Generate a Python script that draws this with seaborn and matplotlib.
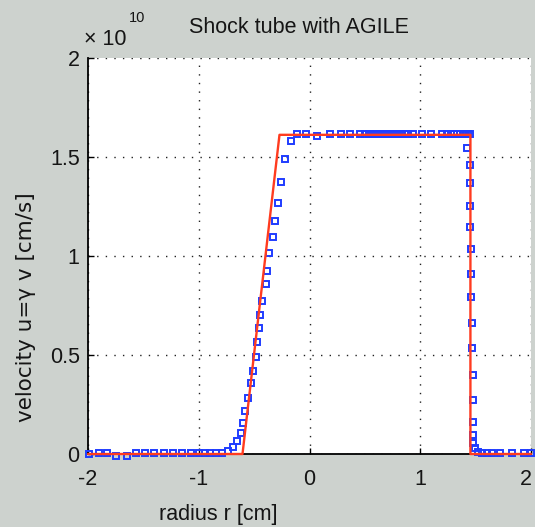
import numpy as np
import pandas as pd
import matplotlib
matplotlib.use("Agg")
import matplotlib.pyplot as plt
import matplotlib.transforms as mtransforms
import seaborn as sns

# ---------------- data (velocity in units of 1e10 cm/s) ----------------
exact_r = [-2.0, -0.605, -0.271, 1.453, 1.453, 2.0]
exact_u = [0.0, 0.0, 1.612, 1.612, 0.0, 0.0]

sim_r = [-1.99, -1.90, -1.826, -1.745, -1.652, -1.57, -1.489, -1.405, -1.315,
         -1.23, -1.149, -1.074, -0.995, -0.945, -0.894, -0.842, -0.788,
         -0.736, -0.692, -0.659, -0.623, -0.598, -0.580, -0.557, -0.526,
         -0.508, -0.487, -0.472, -0.458, -0.445, -0.427, -0.397, -0.382,
         -0.367, -0.331, -0.316, -0.282, -0.253, -0.223, -0.171, -0.111,
         -0.036, 0.069, 0.183, 0.280, 0.370, 0.454,
         0.505, 0.540, 0.576, 0.611, 0.646, 0.682, 0.717, 0.752, 0.788,
         0.823, 0.858, 0.893, 0.936, 1.017, 1.101, 1.198,
         1.243, 1.275, 1.305, 1.335, 1.36, 1.385, 1.40, 1.415, 1.43, 1.445,
         1.425, 1.450, 1.451, 1.452, 1.453, 1.454, 1.455, 1.456, 1.470,
         1.471, 1.472, 1.473, 1.474, 1.475, 1.476, 1.498, 1.523,
         1.559, 1.604, 1.649, 1.724, 1.830, 1.934, 2.0]
sim_u = [0.0, 0.003, 0.003, -0.008, -0.008, 0.003, 0.003, 0.003, 0.003,
         0.003, 0.003, 0.003, 0.003, 0.003, 0.003, 0.003, 0.003,
         0.015, 0.035, 0.066, 0.108, 0.158, 0.219, 0.281, 0.357,
         0.421, 0.488, 0.567, 0.635, 0.702, 0.773, 0.857, 0.926,
         1.014, 1.094, 1.178, 1.270, 1.374, 1.488, 1.582, 1.616,
         1.618, 1.606, 1.618, 1.618, 1.618, 1.618,
         1.618, 1.618, 1.618, 1.618, 1.618, 1.618, 1.618, 1.618, 1.618,
         1.618, 1.618, 1.618, 1.618, 1.618, 1.618, 1.618,
         1.618, 1.618, 1.618, 1.618, 1.618, 1.618, 1.618, 1.618, 1.618, 1.618,
         1.544, 1.460, 1.367, 1.253, 1.145, 1.034, 0.908, 0.794, 0.660,
         0.534, 0.399, 0.273, 0.163, 0.096, 0.054, 0.029, 0.012,
         0.003, 0.003, 0.003, 0.003, 0.003, 0.003, 0.003]

x_ticks = [-2, -1, 0, 1, 2]
x_tick_labels = ["-2", "-1", "0", "1", "2"]
y_ticks = [0, 0.5, 1, 1.5, 2]
y_tick_labels = ["0", "0.5", "1", "1.5", "2"]

title_text = "Shock tube with AGILE"
xlabel_text = "radius r [cm]"
ylabel_text = "velocity u=\u03b3 v [cm/s]"

# ---------------- style ----------------
sns.set_theme(style="white")
plt.rcParams["font.family"] = ["Liberation Sans", "DejaVu Sans"]
plt.rcParams["axes.unicode_minus"] = False

BG = "#cdd2ce"
RED = "#ff3b1f"
BLUE = "#1f3cff"
TXT = "#151515"
FS = 15.5

W, H = 535, 527
fig = plt.figure(figsize=(W / 100, H / 100), dpi=100, facecolor=BG)
ax = fig.add_axes([88 / W, 1 - 454 / H, 443 / W, 396 / H])
ax.set_facecolor("white")

sim_df = pd.DataFrame({"r": sim_r, "u": sim_u})
exact_df = pd.DataFrame({"r": exact_r, "u": exact_u})

sns.lineplot(data=sim_df, x="r", y="u", ax=ax, estimator=None, sort=False,
             linestyle="", marker="s", markersize=4.4, markerfacecolor="none",
             markeredgecolor=BLUE, markeredgewidth=1.4, color=BLUE,
             clip_on=False, zorder=3)
sns.lineplot(data=exact_df, x="r", y="u", ax=ax, estimator=None, sort=False,
             color=RED, linewidth=1.7, zorder=4, clip_on=False)

ax.set_xlim(-2, 2)
ax.set_ylim(0, 2)
ax.set_xticks(x_ticks)
ax.set_xticklabels(x_tick_labels)
ax.set_yticks(y_ticks)
ax.set_yticklabels(y_tick_labels)
ax.set_xlabel("")
ax.set_ylabel("")

ax.grid(True, color="#222222", linestyle=(0, (1, 5.2)), linewidth=1.0)
ax.set_axisbelow(True)
for s in ["top", "right"]:
    ax.spines[s].set_visible(False)
for s in ["left", "bottom"]:
    ax.spines[s].set_color("black")
    ax.spines[s].set_linewidth(1.3)

ax.tick_params(axis="both", direction="in", length=4, width=1.0, colors="black",
               labelsize=FS, bottom=True, left=True, top=False, right=False)
ax.tick_params(axis="x", pad=11)
ax.tick_params(axis="y", pad=6)
for lab in ax.get_xticklabels() + ax.get_yticklabels():
    lab.set_color(TXT)

# keep the last x tick label inside the figure, as in the reference
last = ax.get_xticklabels()[-1]
last.set_transform(last.get_transform() +
                   mtransforms.ScaledTranslation(-5 / 100, 0, fig.dpi_scale_trans))

fig.text(299 / W, 1 - 33 / H, title_text, ha="center", va="baseline",
         fontsize=FS, color=TXT)
fig.text(218 / W, 1 - 520 / H, xlabel_text, ha="center", va="baseline",
         fontsize=FS, color=TXT)
fig.text(26 / W, 1 - 307.5 / H, ylabel_text, ha="center", va="center",
         rotation=90, fontsize=15.5, color=TXT,
         family=["DejaVu Sans"])
fig.text(84 / W, 1 - 45 / H, "\u00d7 10", ha="left", va="baseline",
         fontsize=FS, color=TXT)
fig.text(129 / W, 1 - 22 / H, "10", ha="left", va="baseline",
         fontsize=10.5, color=TXT)

fig.savefig("out.png", dpi=100, facecolor=BG)
